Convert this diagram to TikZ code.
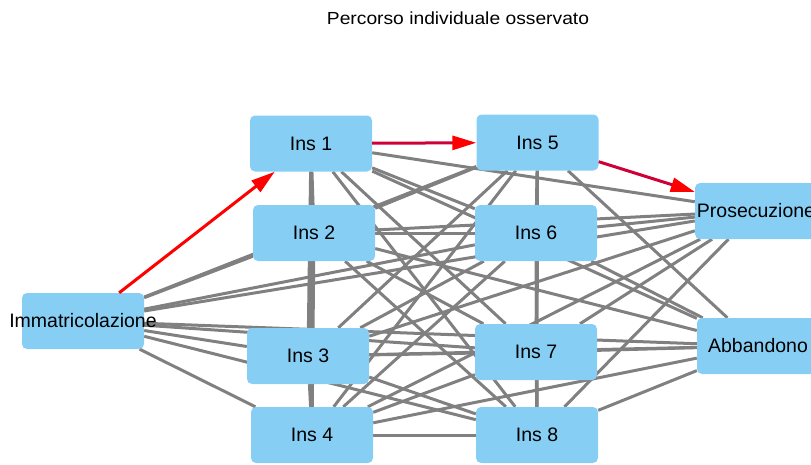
\documentclass[tikz,border=0pt]{standalone}
\usepackage{fontspec}
\setmainfont{Liberation Sans}
\newfontfamily\headingfont[FakeStretch=1.1]{Liberation Sans}
\usetikzlibrary{arrows.meta}

\definecolor{boxblue}{RGB}{135,206,245}
\definecolor{edgegray}{RGB}{128,128,128}
\definecolor{pathred}{RGB}{255,0,0}
\definecolor{pathcrimson}{RGB}{205,0,55}

\pgfdeclarelayer{edges}
\pgfsetlayers{edges,main}

\begin{document}
\begin{tikzpicture}[x=1pt,y=-1pt,
  statebox/.style={fill=boxblue, rounded corners=5pt, minimum width=122pt,
    minimum height=56pt, inner sep=0pt, font=\fontsize{19.5}{22}\selectfont},
  link/.style={draw=edgegray, line width=3pt},
  route/.style={line width=3pt, -{Triangle[length=24pt,width=14pt,color=pathred]}}
]
\useasboundingbox (0,0) rectangle (811,464);

\node[font=\headingfont\fontsize{17.5}{20}\selectfont] (title) at (458,18) {Percorso individuale osservato};

% states
\node[statebox] (imm) at (83,321)   {\makebox[0pt]{Immatricolazione}};
\node[statebox] (i1)  at (311,143.5) {Ins 1};
\node[statebox] (i2)  at (314,233)   {Ins 2};
\node[statebox] (i3)  at (308,356)   {Ins 3};
\node[statebox] (i4)  at (312,435)   {Ins 4};
\node[statebox] (i5)  at (537.5,142.5) {Ins 5};
\node[statebox] (i6)  at (536,233)   {Ins 6};
\node[statebox] (i7)  at (536,352)   {Ins 7};
\node[statebox] (i8)  at (537,435)   {Ins 8};
\node[statebox] (pro) at (756,211)   {\makebox[0pt]{Prosecuzione}};
\node[statebox] (abb) at (758,346)   {\makebox[0pt]{Abbandono}};

% all observed transitions, behind the boxes
\begin{pgfonlayer}{edges}
  \foreach \a/\b in {imm/i2, imm/i3, imm/i4, imm/i5, imm/i6, imm/i7, imm/i8, imm/pro, imm/abb,
                     i1/i2, i1/i3, i1/i4, i1/i6, i1/i7, i1/i8,
                     i2/i3, i2/i4, i2/i5, i2/i6, i2/i7, i2/i8,
                     i3/i4, i3/i5, i3/i6, i3/i7, i3/i8,
                     i4/i5, i4/i6, i4/i7, i4/i8,
                     i5/i6, i5/i7, i5/i8,
                     i6/i7, i6/i8,
                     i7/i8,
                     i1/pro, i2/pro, i3/pro, i4/pro, i6/pro, i7/pro, i8/pro,
                     i1/abb, i2/abb, i3/abb, i4/abb, i5/abb, i6/abb, i7/abb, i8/abb}
    \draw[link] (\a) -- (\b);
\end{pgfonlayer}

% the individual path
\draw[route, draw=pathred] (imm) -- (i1);
\draw[route, draw=pathcrimson] (i1) -- (i5);
\draw[route, draw=pathcrimson] (i5) -- (pro);
\end{tikzpicture}
\end{document}
